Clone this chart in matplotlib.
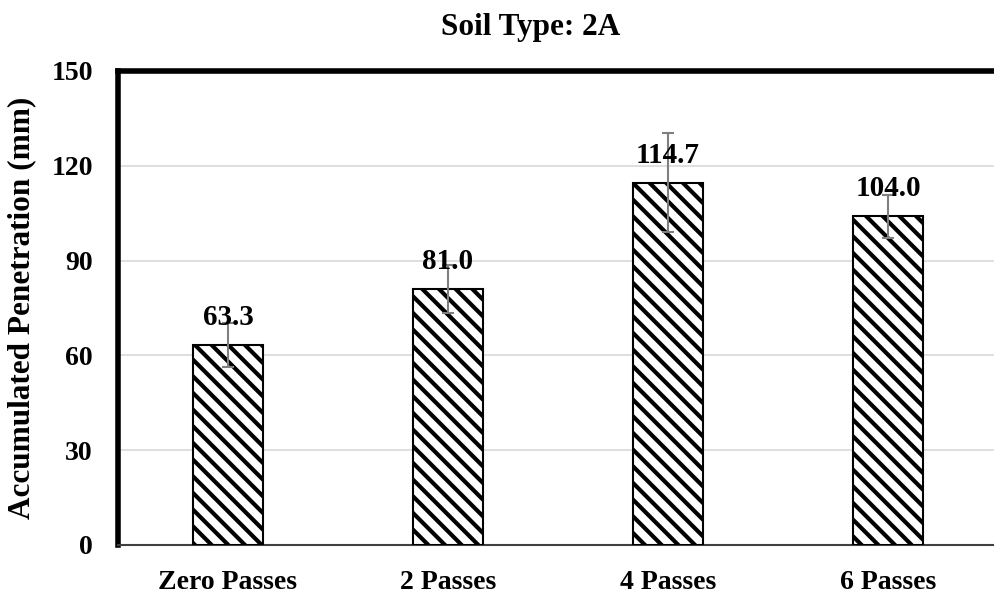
import matplotlib
matplotlib.use("Agg")
import matplotlib.pyplot as plt
import numpy as np

categories = ["Zero Passes", "2 Passes", "4 Passes", "6 Passes"]
values = [63.3, 81.0, 114.7, 104.0]
errors = [7.0, 7.7, 15.7, 6.7]
yticks = [0, 30, 60, 90, 120, 150]
title = "Soil Type: 2A"
ylabel = "Accumulated Penetration (mm)"

plt.rcParams['font.family'] = ['Liberation Serif', 'DejaVu Serif']
plt.rcParams['font.weight'] = 'bold'
plt.rcParams['hatch.linewidth'] = 3.0
plt.rcParams['hatch.color'] = 'black'

fig = plt.figure(figsize=(9.95, 5.96), dpi=100)
ax = fig.add_axes([118/995, 1-545/596, 880/995, (545-71)/596])

x = np.arange(len(categories))
bars = ax.bar(x, values, width=0.318, color='white', edgecolor='black',
              linewidth=1.5, hatch='\\\\', zorder=3)
ax.errorbar(x, values, yerr=errors, fmt='none', ecolor='#7f7f7f',
            elinewidth=1.5, capsize=4, capthick=1.5, zorder=4)

for xi, v in zip(x, values):
    ax.annotate(f"{v:.1f}", (xi, v), xytext=(0, 10), textcoords='offset points',
                ha='center', va='bottom', fontsize=21, fontweight='bold', zorder=5)

ax.set_xlim(-0.5, len(categories) - 0.5)
ax.set_ylim(0, 150)
ax.set_yticks(yticks)
ax.set_yticklabels([str(t) for t in yticks], fontsize=20, fontweight='bold')
ax.set_xticks(x)
ax.set_xticklabels(categories, fontsize=20, fontweight='bold')
ax.tick_params(axis='both', length=0)
ax.tick_params(axis='y', pad=18)
ax.tick_params(axis='x', pad=18)

ax.yaxis.grid(True, color='#d9d9d9', linewidth=1.2, zorder=0)
ax.set_axisbelow(True)

ax.spines['left'].set_linewidth(4)
ax.spines['top'].set_linewidth(4)
ax.spines['right'].set_linewidth(4)
ax.spines['left'].set_color('black')
ax.spines['top'].set_color('black')
ax.spines['bottom'].set_color('#404040')
ax.spines['bottom'].set_linewidth(1.5)

ax.set_ylabel(ylabel, fontsize=22.5, fontweight='bold')
ax.yaxis.set_label_coords(-(118 - 36) / 880, 0.5)
fig.text(531/995, 1-28/596, title, ha='center', va='center', fontsize=22.5, fontweight='bold')

fig.savefig("out.png", dpi=100)
